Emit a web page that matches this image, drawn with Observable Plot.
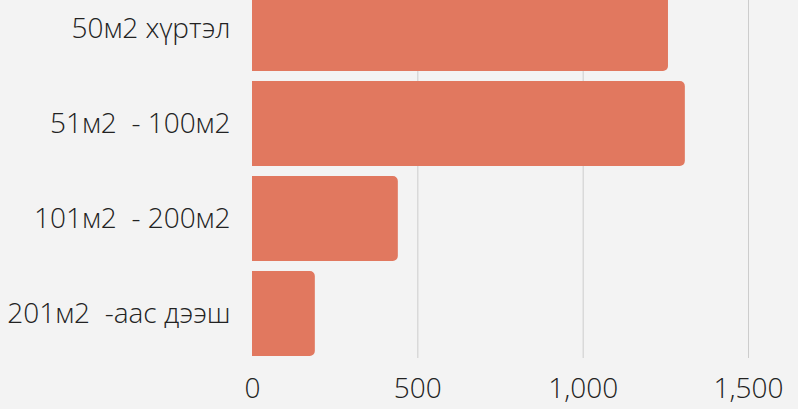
<!DOCTYPE html>
<html><head><meta charset="utf-8">
<script src="https://cdn.jsdelivr.net/npm/d3@7"></script>
<script src="https://cdn.jsdelivr.net/npm/@observablehq/plot@0.6"></script>
<style>
html,body{margin:0;padding:0;background:#f3f3f3;}
#chart svg{display:block;}
</style></head>
<body><div id="chart"></div>
<script>
const categories = ["50м2 хүртэл", "51м2  - 100м2", "101м2  - 200м2", "201м2  -аас дээш"];
const values = [1258, 1309, 441, 190];
const xTicks = [0, 500, 1000, 1500];

const data = categories.map((c, i) => ({category: c, value: values[i]}));

const chart = Plot.plot({
  width: 798,
  height: 409,
  marginLeft: 252,
  marginRight: 50,
  marginTop: -16,
  marginBottom: 51,
  style: {background: "#f3f3f3", fontFamily: "'Open Sans', sans-serif", fontSize: "28px", fontWeight: 300, color: "#222"},
  x: {domain: [0, 1500], ticks: xTicks, tickFormat: d3.format(","), grid: false, label: null},
  y: {domain: categories, paddingInner: 0.104, paddingOuter: 0, label: null},
  marks: [
    Plot.gridX(xTicks.filter(d => d > 0), {stroke: "#cccccc", strokeOpacity: 1, strokeWidth: 1}),
    Plot.barX(data, {y: "category", x: "value", fill: "#e1785f", rx2: 5}),
    Plot.axisX(xTicks, {tickSize: 0, tickPadding: 20, tickFormat: d3.format(","), fontSize: 28, fontWeight: 300, label: null}),
    Plot.axisY({tickSize: 0, tickPadding: 22, fontSize: 28, fontWeight: 300, label: null})
  ]
});
document.getElementById("chart").appendChild(chart);
</script></body></html>
